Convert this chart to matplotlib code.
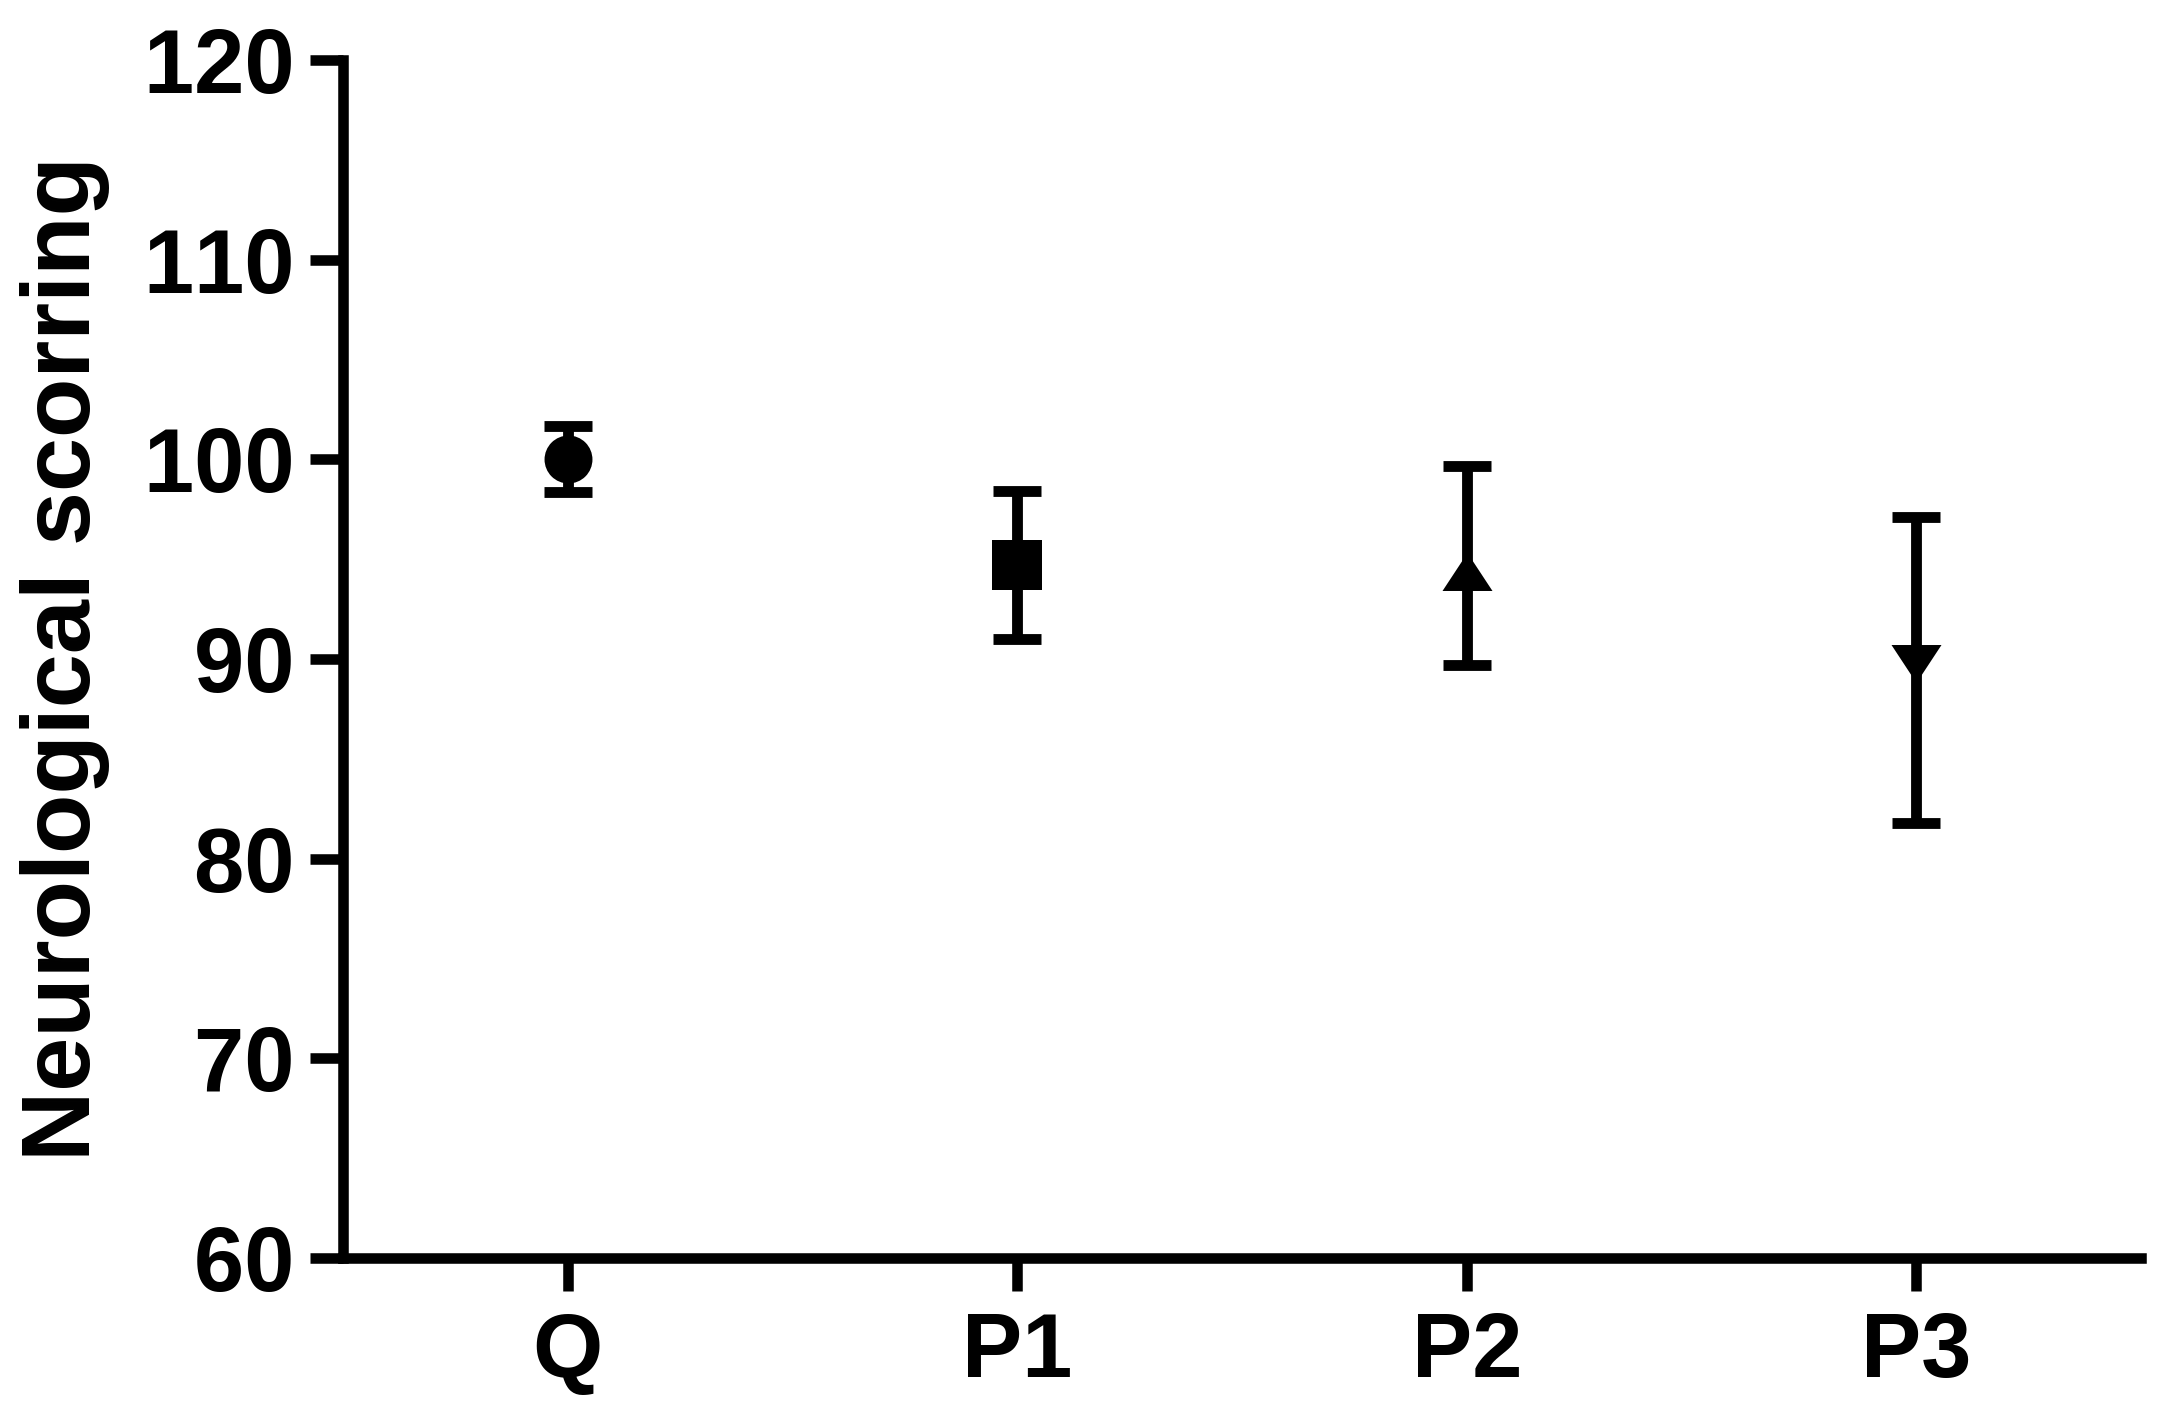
import matplotlib
matplotlib.use("Agg")
import matplotlib.pyplot as plt
from matplotlib.path import Path

# Data
groups = ["Q", "P1", "P2", "P3"]
means = [100.0, 94.7, 94.7, 89.47]
errors = [1.66, 3.70, 4.99, 7.66]
y_ticks = [60, 70, 80, 90, 100, 110, 120]
y_label = "Neurological scorring"

plt.rcParams['font.family'] = ['Liberation Sans', 'DejaVu Sans']
plt.rcParams['font.weight'] = 'bold'

fig = plt.figure(figsize=(21.6, 14.19), dpi=100)
ax = fig.add_axes([343/2160, 1 - 1258/1419, (2141-343)/2160, (1258-60)/1419])

# custom markers (point at 1/3 from apex)
tri_up = Path([(0, 12.5), (-25, -25.5), (25, -25.5), (0, 12.5)],
              [Path.MOVETO, Path.LINETO, Path.LINETO, Path.CLOSEPOLY])
tri_down = Path([(0, -12.5), (-25, 25.5), (25, 25.5), (0, -12.5)],
                [Path.MOVETO, Path.LINETO, Path.LINETO, Path.CLOSEPOLY])
markers = ['o', 's', tri_up, tri_down]
msizes = [34.5, 36, 36.7, 36.7]

lw = 7.8
for i, (m, e) in enumerate(zip(means, errors)):
    ax.errorbar([i], [m], yerr=[e], fmt='none', ecolor='black',
                elinewidth=lw, capsize=17.3, capthick=lw, zorder=2)
    ax.plot([i], [m], marker=markers[i], markersize=msizes[i],
            color='black', markeredgewidth=0, linestyle='none', zorder=3)

ax.set_xlim(-0.5, 3.5)
ax.set_ylim(60, 120)
ax.set_xticks(range(len(groups)))
ax.set_xticklabels(groups)
ax.set_yticks(y_ticks)
# zero-width joiner between digits suppresses the font's "11" kerning
ax.set_yticklabels(['\u200b'.join(str(t)) for t in y_ticks])

for s in ['top', 'right']:
    ax.spines[s].set_visible(False)
for s in ['left', 'bottom']:
    ax.spines[s].set_linewidth(7.6)
    ax.spines[s].set_capstyle('projecting')

ax.tick_params(axis='both', direction='out', length=24, width=7.6,
               labelsize=65)
ax.tick_params(axis='y', pad=11)
ax.tick_params(axis='x', pad=14)
for lab in ax.get_xticklabels() + ax.get_yticklabels():
    lab.set_fontweight('bold')

ax.set_ylabel(y_label, fontsize=70, fontweight='bold', labelpad=24)

fig.savefig("out.png", dpi=100)
